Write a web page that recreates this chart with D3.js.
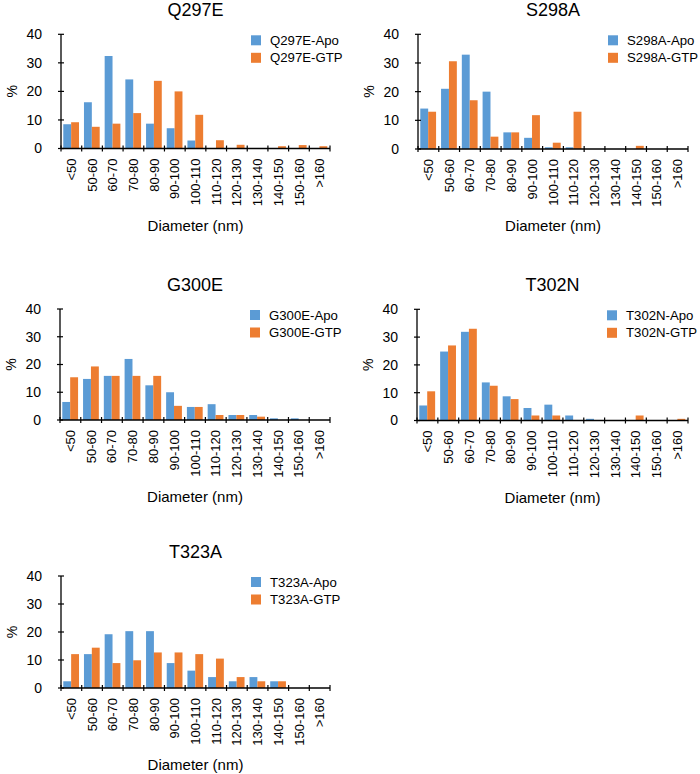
<!DOCTYPE html>
<html>
<head>
<meta charset="utf-8">
<script src="https://cdn.jsdelivr.net/npm/d3@7"></script>
<style>
  html, body { margin: 0; padding: 0; background: #fff; }
  svg text { font-family: "Liberation Sans", Arial, Helvetica, sans-serif; fill: #000; }
</style>
</head>
<body>
<svg id="chart" width="700" height="774"></svg>
<script>
// ---------------- DATA ----------------
const categories = ["<50","50-60","60-70","70-80","80-90","90-100","100-110","110-120","120-130","130-140","140-150","150-160",">160"];
const yTicks = [0, 10, 20, 30, 40];
const yMax = 40;
const titles = ["Q297E", "S298A", "G300E", "T302N", "T323A"];
const seriesNames = ["Apo", "GTP"];

const q297eApo = [8.5, 16.2, 32.4, 24.2, 8.7, 7.1, 2.8, 0, 0, 0, 0, 0, 0];
const q297eGtp = [9.2, 7.6, 8.7, 12.4, 23.7, 20.0, 11.8, 2.9, 1.3, 0, 0.8, 1.2, 0.8];
const s298aApo = [14.1, 21.0, 32.9, 20.0, 5.8, 3.9, 0.6, 0.6, 0, 0, 0, 0, 0];
const s298aGtp = [13.0, 30.6, 17.0, 4.3, 5.8, 11.8, 2.2, 13.0, 0, 0, 1.1, 0, 0];
const g300eApo = [6.5, 14.8, 15.9, 22.0, 12.5, 10.0, 4.7, 5.7, 1.8, 1.8, 0.6, 0.6, 0];
const g300eGtp = [15.4, 19.3, 15.9, 15.9, 15.9, 5.1, 4.7, 1.8, 1.8, 1.2, 0, 0, 0];
const t302nApo = [5.4, 24.8, 31.9, 13.7, 8.7, 4.5, 5.7, 1.8, 0.6, 0, 0, 0, 0];
const t302nGtp = [10.5, 27.0, 33.0, 12.5, 7.7, 1.8, 1.8, 0, 0, 0, 1.8, 0, 0.6];
const t323aApo = [2.4, 12.1, 19.2, 20.3, 20.3, 8.9, 6.2, 3.9, 2.4, 3.9, 2.4, 0, 0];
const t323aGtp = [12.1, 14.4, 8.9, 9.9, 12.7, 12.7, 12.1, 10.5, 3.9, 2.4, 2.4, 0, 0];

const colors = ["#5b9bd5", "#ed7d31"];

// ---------------- LAYOUT ----------------
const panels = [
  { title: titles[0], apo: q297eApo, gtp: q297eGtp, left: 61,  right: 330, top: 34.3, bottom: 148.5 },
  { title: titles[1], apo: s298aApo, gtp: s298aGtp, left: 418, right: 688, top: 34.3, bottom: 149 },
  { title: titles[2], apo: g300eApo, gtp: g300eGtp, left: 60,  right: 330, top: 309,  bottom: 420 },
  { title: titles[3], apo: t302nApo, gtp: t302nGtp, left: 417, right: 688, top: 309.3, bottom: 420.5 },
  { title: titles[4], apo: t323aApo, gtp: t323aGtp, left: 61,  right: 330, top: 576,  bottom: 688 }
];

const svg = d3.select("#chart");

panels.forEach(p => {
  const g = svg.append("g");
  const x = d3.scaleBand().domain(categories).range([p.left, p.right]).paddingInner(0).paddingOuter(0);
  const y = d3.scaleLinear().domain([0, yMax]).range([p.bottom, p.top]);
  const w = x.bandwidth();

  // bars
  const series = [p.apo, p.gtp];
  series.forEach((vals, si) => {
    g.selectAll(null).data(categories).enter().append("rect")
      .attr("x", c => x(c) + w * (0.11 + 0.38 * si))
      .attr("width", w * 0.38)
      .attr("y", (c, i) => y(vals[i]))
      .attr("height", (c, i) => y(0) - y(vals[i]))
      .attr("fill", colors[si]);
  });

  // y axis
  g.append("line").attr("x1", p.left).attr("x2", p.left).attr("y1", y(0)).attr("y2", y(yMax))
    .attr("stroke", "#000").attr("stroke-width", 1.3);
  yTicks.forEach(t => {
    g.append("line").attr("x1", p.left - 3).attr("x2", p.left + 3).attr("y1", y(t)).attr("y2", y(t))
      .attr("stroke", "#000").attr("stroke-width", 1.2);
    g.append("text").attr("x", p.left - 19).attr("y", y(t)).attr("dy", "0.35em")
      .attr("text-anchor", "end").attr("font-size", 14).text(t);
  });

  // x axis
  g.append("line").attr("x1", p.left).attr("x2", p.right).attr("y1", y(0)).attr("y2", y(0))
    .attr("stroke", "#000").attr("stroke-width", 1.3);
  const bounds = categories.map(c => x(c)).concat([p.right]);
  bounds.forEach(bx => {
    g.append("line").attr("x1", bx).attr("x2", bx).attr("y1", y(0) - 3).attr("y2", y(0) + 3)
      .attr("stroke", "#000").attr("stroke-width", 1.2);
  });
  categories.forEach(c => {
    const cx = x(c) + w / 2;
    const ty = y(0) + 10;
    g.append("text").attr("transform", `translate(${cx},${ty}) rotate(-90)`)
      .attr("dy", "0.35em").attr("text-anchor", "end").attr("font-size", 13).text(c);
  });

  // axis labels
  g.append("text").attr("x", (p.left + p.right) / 2).attr("y", p.bottom + 82)
    .attr("text-anchor", "middle").attr("font-size", 15).text("Diameter (nm)");
  g.append("text").attr("transform", `translate(${p.left - 49},${(p.top + p.bottom) / 2}) rotate(-90)`)
    .attr("dy", "0.35em").attr("text-anchor", "middle").attr("font-size", 14).text("%");

  // title
  g.append("text").attr("x", (p.left + p.right) / 2).attr("y", p.top - 18.5)
    .attr("text-anchor", "middle").attr("font-size", 18).text(p.title);

  // legend
  seriesNames.forEach((s, si) => {
    const ly = p.top + 1 + si * 17.5;
    g.append("rect").attr("x", p.left + 190).attr("y", ly).attr("width", 10).attr("height", 10)
      .attr("fill", colors[si]);
    g.append("text").attr("x", p.left + 209).attr("y", ly + 5).attr("dy", "0.35em")
      .attr("font-size", 13.2).text(p.title + "-" + s);
  });
});
</script>
</body>
</html>
